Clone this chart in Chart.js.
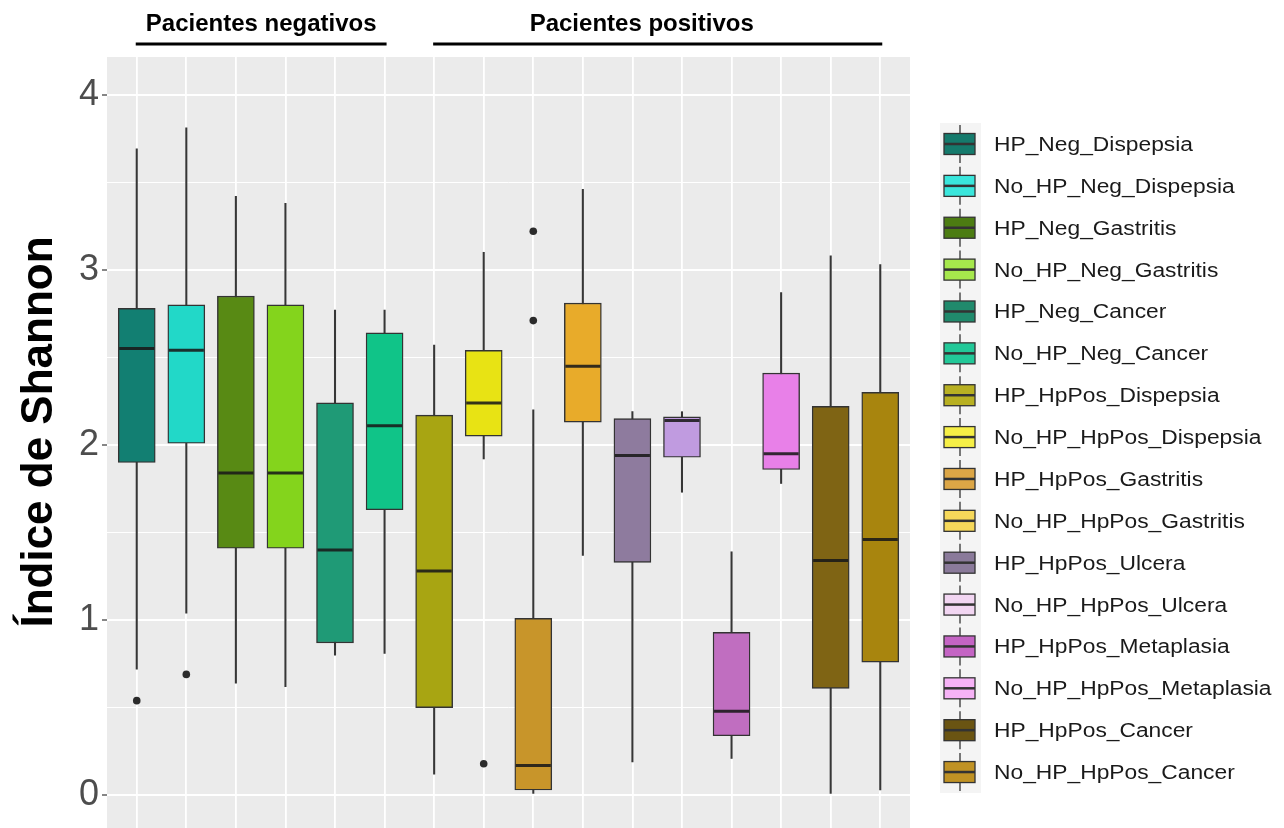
<!DOCTYPE html>
<html>
<head>
<meta charset="utf-8">
<title>Índice de Shannon</title>
<script src="https://cdn.jsdelivr.net/npm/chart.js@4.4.0/dist/chart.umd.min.js"></script>
<style>
  html, body { margin: 0; padding: 0; background: #ffffff; }
  #wrap { width: 1284px; height: 828px; }
</style>
</head>
<body>
<div id="wrap"><canvas id="c" width="1284" height="828"></canvas></div>
<script>
// Groups of patients, one box per group
const categories = [
  'HP_Neg_Dispepsia', 'No_HP_Neg_Dispepsia', 'HP_Neg_Gastritis', 'No_HP_Neg_Gastritis',
  'HP_Neg_Cancer', 'No_HP_Neg_Cancer', 'HP_HpPos_Dispepsia', 'No_HP_HpPos_Dispepsia',
  'HP_HpPos_Gastritis', 'No_HP_HpPos_Gastritis', 'HP_HpPos_Ulcera', 'No_HP_HpPos_Ulcera',
  'HP_HpPos_Metaplasia', 'No_HP_HpPos_Metaplasia', 'HP_HpPos_Cancer', 'No_HP_HpPos_Cancer'
];

// Five-number summaries of the Shannon index
const whiskerLow  = [0.72, 1.04, 0.64, 0.62, 0.80, 0.81, 0.12, 1.92, 0.01, 1.37, 0.19, 1.73, 0.21, 1.78, 0.01, 0.03];
const q1          = [1.90, 2.01, 1.41, 1.41, 0.87, 1.63, 0.50, 2.05, 0.03, 2.13, 1.33, 1.93, 0.34, 1.86, 0.61, 0.76];
const median      = [2.55, 2.54, 1.84, 1.84, 1.40, 2.11, 1.28, 2.24, 0.17, 2.45, 1.94, 2.14, 0.48, 1.95, 1.34, 1.46];
const q3          = [2.78, 2.80, 2.85, 2.80, 2.24, 2.64, 2.17, 2.54, 1.01, 2.81, 2.15, 2.16, 0.93, 2.41, 2.22, 2.30];
const whiskerHigh = [3.69, 3.81, 3.42, 3.38, 2.77, 2.77, 2.57, 3.10, 2.20, 3.46, 2.19, 2.19, 1.39, 2.87, 3.08, 3.03];

// Outlying observations: group index and value
const outlierGroup = [0, 1, 7, 8, 8];
const outlierValue = [0.54, 0.69, 0.18, 3.22, 2.71];

// Y-axis ticks (integers labelled, halves as minor grid)
const yTickValues = [0, 0.5, 1, 1.5, 2, 2.5, 3, 3.5, 4];

// Header groups over the panel
const groupTitles = ['Pacientes negativos', 'Pacientes positivos'];
const groupFirst  = [0, 6];
const groupLast   = [5, 15];

// Fill colours
const boxColors = [
  '#127f72', '#22d8c8', '#588a14', '#84d41c', '#1f9a76', '#10c488', '#a8a512', '#e8e314',
  '#c8952a', '#e8ab2a', '#8e7b9e', '#c09be0', '#c06ec0', '#e880e8', '#7f6414', '#a8850e'
];
const legendColors = [
  '#157a6c', '#3ae6dc', '#4c7c12', '#a6e84c', '#208a6c', '#22c898', '#b8b022', '#f6ef46',
  '#dca646', '#f6d85a', '#8a7a9a', '#f2d6f2', '#c464c4', '#f6b2f6', '#6a5412', '#c09224'
];

const FONT = '"Liberation Sans", Arial, Helvetica, sans-serif';
Chart.defaults.font.family = FONT;

// Grey panel behind the grid
const panelBackground = {
  id: 'panelBackground',
  beforeDraw(chart) {
    const { ctx, chartArea: a } = chart;
    ctx.save();
    ctx.fillStyle = '#ebebeb';
    ctx.fillRect(a.left, a.top, a.right - a.left, a.bottom - a.top);
    ctx.restore();
  }
};

// Median bars across each box
const medianLines = {
  id: 'medianLines',
  afterDatasetsDraw(chart) {
    const { ctx } = chart;
    const yScale = chart.scales.y;
    const meta = chart.getDatasetMeta(1);
    ctx.save();
    ctx.strokeStyle = 'rgba(25,25,25,0.88)';
    ctx.lineWidth = 3;
    meta.data.forEach((bar, i) => {
      const { x, width } = bar.getProps(['x', 'width'], true);
      const py = yScale.getPixelForValue(median[i]);
      ctx.beginPath();
      ctx.moveTo(x - width / 2 + 1, py);
      ctx.lineTo(x + width / 2 - 1, py);
      ctx.stroke();
    });
    ctx.restore();
  }
};

// Group headers, axis title and the key on the right
const decorations = {
  id: 'decorations',
  afterDraw(chart) {
    const { ctx } = chart;
    const xScale = chart.scales.x;
    ctx.save();

    // group headers with rules
    ctx.fillStyle = '#000';
    ctx.strokeStyle = '#000';
    ctx.lineWidth = 3;
    ctx.font = 'bold 24px ' + FONT;
    ctx.textAlign = 'center';
    ctx.textBaseline = 'alphabetic';
    const labelShift = [0, -16];
    groupTitles.forEach((t, g) => {
      const x0 = xScale.getPixelForValue(groupFirst[g]) - 1;
      const x1 = xScale.getPixelForValue(groupLast[g]) + 2;
      ctx.beginPath();
      ctx.moveTo(x0, 44);
      ctx.lineTo(x1, 44);
      ctx.stroke();
      ctx.fillText(t, (x0 + x1) / 2 + labelShift[g], 31);
    });

    // y-axis title
    ctx.save();
    ctx.translate(52, 432);
    ctx.rotate(-Math.PI / 2);
    ctx.font = 'bold 44px ' + FONT;
    ctx.fillStyle = '#000';
    ctx.textAlign = 'center';
    ctx.textBaseline = 'alphabetic';
    ctx.fillText('Índice de Shannon', 0, 0);
    ctx.restore();

    // key
    const top = 144, step = 41.87;
    ctx.fillStyle = '#f4f4f4';
    ctx.fillRect(940, top - 21, 41, step * categories.length);
    categories.forEach((name, i) => {
      const yc = top + step * i;
      ctx.strokeStyle = '#333';
      ctx.lineWidth = 1.3;
      ctx.beginPath();
      ctx.moveTo(960, yc - 19);
      ctx.lineTo(960, yc + 19);
      ctx.stroke();
      ctx.fillStyle = legendColors[i];
      ctx.fillRect(944, yc - 10.5, 31, 21);
      ctx.strokeRect(944, yc - 10.5, 31, 21);
      ctx.lineWidth = 2.5;
      ctx.beginPath();
      ctx.moveTo(944, yc);
      ctx.lineTo(975, yc);
      ctx.stroke();

      ctx.save();
      ctx.translate(994, yc + 7);
      ctx.scale(1.14, 1);
      ctx.font = '20px ' + FONT;
      ctx.fillStyle = '#1a1a1a';
      ctx.textAlign = 'left';
      ctx.textBaseline = 'alphabetic';
      ctx.fillText(name, 0, 0);
      ctx.restore();
    });

    ctx.restore();
  }
};

const idx = categories.map((_, i) => i);

new Chart(document.getElementById('c'), {
  type: 'bar',
  data: {
    datasets: [
      {
        label: 'whiskers',
        data: idx.map(i => ({ x: i, y: [whiskerLow[i], whiskerHigh[i]] })),
        backgroundColor: '#363636',
        borderWidth: 0,
        barThickness: 1.4,
        grouped: false,
        order: 3
      },
      {
        label: 'boxes',
        data: idx.map(i => ({ x: i, y: [q1[i], q3[i]] })),
        backgroundColor: boxColors,
        borderColor: '#333333',
        borderWidth: 1.4,
        borderSkipped: false,
        barThickness: 37,
        grouped: false,
        order: 2
      },
      {
        type: 'scatter',
        label: 'outliers',
        data: outlierGroup.map((g, k) => ({ x: g, y: outlierValue[k] })),
        backgroundColor: '#2b2b2b',
        borderWidth: 0,
        pointRadius: 3.8,
        order: 1
      }
    ]
  },
  options: {
    responsive: false,
    animation: false,
    devicePixelRatio: 1,
    events: [],
    layout: { autoPadding: false, padding: { left: 0, top: 57, right: 374, bottom: 0 } },
    plugins: {
      legend: { display: false },
      tooltip: { enabled: false }
    },
    scales: {
      x: {
        type: 'linear',
        min: -0.6,
        max: 15.6,
        offset: false,
        afterBuildTicks(scale) { scale.ticks = idx.map(v => ({ value: v })); },
        afterFit(scale) {
          scale.height = 0;
          scale.paddingLeft = 0; scale.paddingRight = 0;
        },
        ticks: { display: false },
        grid: { color: '#ffffff', lineWidth: 1.8, drawTicks: false, offset: false },
        border: { display: false }
      },
      y: {
        type: 'linear',
        min: -0.187,
        max: 4.215,
        beginAtZero: false,
        afterBuildTicks(scale) { scale.ticks = yTickValues.map(v => ({ value: v })); },
        afterFit(scale) {
          scale.width = 107;
          scale.paddingTop = 0; scale.paddingBottom = 0;
        },
        ticks: {
          callback: v => (Number.isInteger(v) ? String(v) : ''),
          color: '#4d4d4d',
          font: { size: 36, family: FONT },
          padding: 3
        },
        grid: {
          color: '#ffffff',
          lineWidth: c => (c.tick && Number.isInteger(c.tick.value) ? 2 : 1),
          tickColor: c => (c.tick && Number.isInteger(c.tick.value) ? '#444444' : 'rgba(0,0,0,0)'),
          tickLength: 5,
          tickWidth: 1.3
        },
        border: { display: false }
      }
    }
  },
  plugins: [panelBackground, medianLines, decorations]
});
</script>
</body>
</html>
